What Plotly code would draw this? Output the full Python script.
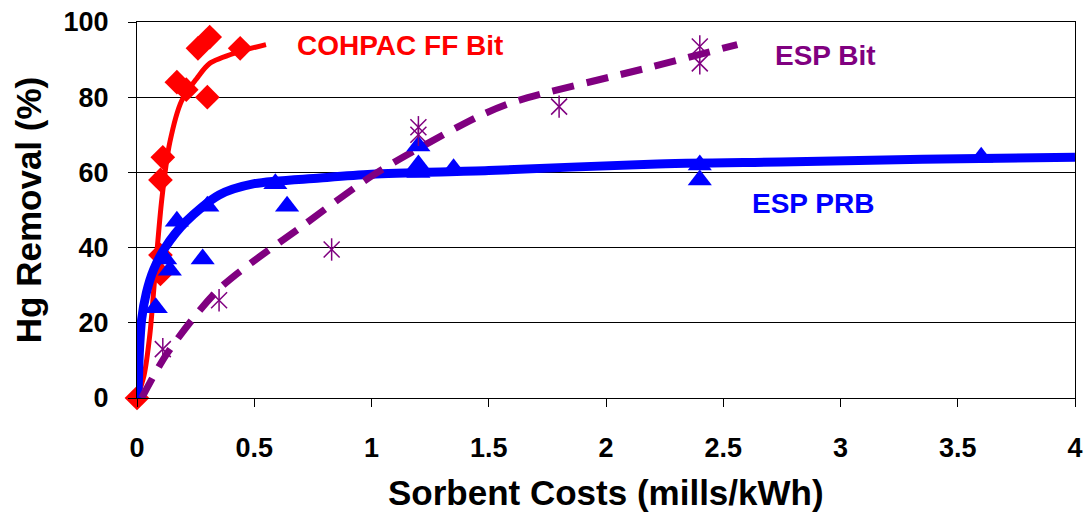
import plotly.graph_objects as go

# ---- data ----
cohpac_x = [0.0, 0.10, 0.10, 0.10, 0.11, 0.17, 0.21, 0.30, 0.26, 0.31, 0.44]
cohpac_y = [0, 38, 33, 58, 64, 84, 82, 80, 93, 96, 93]
cohpac_fit_x = [0.0, 0.03, 0.055, 0.077, 0.106, 0.14, 0.19, 0.255, 0.31, 0.43, 0.55]
cohpac_fit_y = [0, 6, 17, 33, 53, 68, 79, 85, 89, 92, 94]

prb_x = [0.08, 0.12, 0.14, 0.17, 0.28, 0.30, 0.59, 0.64, 1.2, 1.2, 1.2, 1.35, 2.4, 2.4, 3.6]
prb_y = [24, 37, 34, 47, 37, 51, 57, 51, 67, 62, 60, 61, 62, 58, 64]
prb_fit_x = [0.004, 0.01, 0.02, 0.04, 0.07, 0.12, 0.21, 0.35, 0.5, 0.78, 1.0, 1.5, 2.19, 2.8, 3.35, 4.0]
prb_fit_y = [0, 12, 21, 28, 34, 40, 47, 54, 57, 58.5, 59.5, 60.5, 62.2, 62.8, 63.5, 64]

espbit_x = [0.11, 0.35, 0.83, 1.2, 1.2, 1.8, 2.4, 2.4]
espbit_y = [13, 26, 39.5, 72, 70, 77.5, 93.5, 89]
espbit_fit_x = [0.02, 0.13, 0.35, 0.7, 1.0, 1.19, 1.46, 1.62, 2.19, 2.56]
espbit_fit_y = [0, 12, 29, 45.5, 59, 66, 75, 79, 88, 94]

x_ticks = [0, 0.5, 1, 1.5, 2, 2.5, 3, 3.5, 4]
y_ticks = [0, 20, 40, 60, 80, 100]

RED = "#FF0000"
BLUE = "#0000FF"
PURPLE = "#800080"
FONT = "Liberation Sans, Arial, sans-serif"

fig = go.Figure()

fig.add_trace(go.Scatter(x=cohpac_fit_x, y=cohpac_fit_y, mode="lines",
                         line=dict(color=RED, width=5, shape="spline", smoothing=0.8),
                         hoverinfo="skip"))
fig.add_trace(go.Scatter(x=cohpac_x, y=cohpac_y, mode="markers", cliponaxis=False,
                         marker=dict(symbol="diamond", size=19, color=RED,
                                     line=dict(width=0))))
fig.add_trace(go.Scatter(x=prb_fit_x, y=prb_fit_y, mode="lines",
                         line=dict(color=BLUE, width=9, shape="spline", smoothing=0.8),
                         hoverinfo="skip"))
fig.add_trace(go.Scatter(x=espbit_fit_x, y=espbit_fit_y, mode="lines",
                         line=dict(color=PURPLE, width=7, shape="spline", smoothing=0.8,
                                   dash="22px,13px"),
                         hoverinfo="skip"))
fig.add_trace(go.Scatter(x=prb_x, y=prb_y, mode="markers", cliponaxis=False,
                         marker=dict(symbol="triangle-up", size=21, color=BLUE,
                                     line=dict(width=0))))
fig.add_trace(go.Scatter(x=espbit_x, y=espbit_y, mode="markers", cliponaxis=False,
                         marker=dict(symbol="x-thin-open", size=16, color=PURPLE,
                                     line=dict(color=PURPLE, width=1.5))))
fig.add_trace(go.Scatter(x=espbit_x, y=espbit_y, mode="markers", cliponaxis=False,
                         marker=dict(symbol="line-ns-open", size=16, color=PURPLE,
                                     line=dict(color=PURPLE, width=1.5))))

# series labels (positions in data units)
fig.add_annotation(x=(295 - 137) / 234.5, y=(398 - 45) / 3.76, xref="x", yref="y",
                   text="COHPAC FF Bit", showarrow=False,
                   font=dict(family=FONT, size=28, color=RED, weight="bold"),
                   xanchor="left", yanchor="middle")
fig.add_annotation(x=(773 - 137) / 234.5, y=(398 - 55) / 3.76, xref="x", yref="y",
                   text="ESP Bit", showarrow=False,
                   font=dict(family=FONT, size=28, color=PURPLE, weight="bold"),
                   xanchor="left", yanchor="middle")
fig.add_annotation(x=(750 - 137) / 234.5, y=(398 - 203) / 3.76, xref="x", yref="y",
                   text="ESP PRB", showarrow=False,
                   font=dict(family=FONT, size=28, color=BLUE, weight="bold"),
                   xanchor="left", yanchor="middle")

# axis titles
fig.add_annotation(x=0.5, y=-0.250, xref="paper", yref="paper",
                   text="Sorbent Costs (mills/kWh)", showarrow=False,
                   font=dict(family=FONT, size=35, color="black", weight="bold"),
                   xanchor="center", yanchor="middle")
fig.add_annotation(x=-0.116, y=0.5, xref="paper", yref="paper",
                   text="Hg Removal (%)", showarrow=False, textangle=-90,
                   font=dict(family=FONT, size=35, color="black", weight="bold"),
                   xanchor="center", yanchor="middle")

fig.update_layout(
    width=1084, height=514, autosize=False,
    margin=dict(l=137, r=9, t=22, b=116, autoexpand=False),
    paper_bgcolor="white", plot_bgcolor="white",
    showlegend=False,
    xaxis=dict(range=[0, 4], tickvals=x_ticks, showgrid=False, zeroline=False,
               showline=True, linecolor="black", linewidth=1, mirror=True,
               ticks="outside", ticklen=8, tickcolor="black",
               tickfont=dict(family=FONT, size=27, color="black", weight="bold"),
               ticklabelstandoff=18, automargin=False),
    yaxis=dict(range=[0, 100], tickvals=y_ticks, showgrid=True, gridcolor="black",
               gridwidth=1, zeroline=False,
               showline=True, linecolor="black", linewidth=1, mirror=True,
               ticks="outside", ticklen=8, tickcolor="black",
               tickfont=dict(family=FONT, size=27, color="black", weight="bold"),
               ticklabelstandoff=14, automargin=False),
)

fig.write_html("out.html",
               config={"responsive": False, "displayModeBar": False},
               post_script="document.body.style.margin='0';document.body.style.overflow='hidden';")
